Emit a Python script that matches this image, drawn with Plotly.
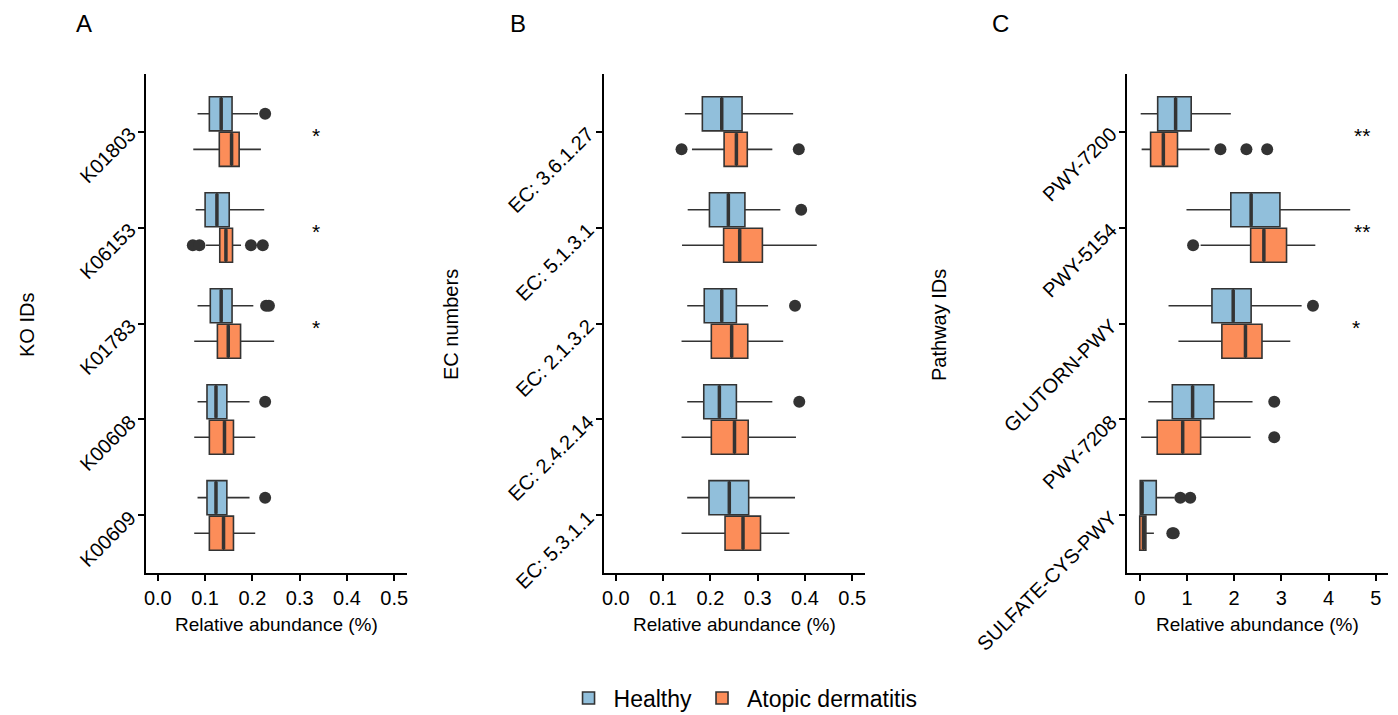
import plotly.graph_objects as go

# ---------------- data ----------------
groups = ["Healthy", "Atopic dermatitis"]
fill_colors = {"Healthy": "#91BFDB", "Atopic dermatitis": "#FC8D59"}

ko_ids = ["K01803", "K06153", "K01783", "K00608", "K00609"]
ko_h_lo = [0.084, 0.080, 0.084, 0.084, 0.084]
ko_h_q1 = [0.109, 0.100, 0.111, 0.104, 0.104]
ko_h_med = [0.134, 0.125, 0.134, 0.123, 0.123]
ko_h_q3 = [0.157, 0.151, 0.157, 0.146, 0.146]
ko_h_hi = [0.212, 0.225, 0.202, 0.194, 0.194]
ko_h_out = [[0.227], [], [0.229, 0.235], [0.227], [0.227]]
ko_a_lo = [0.075, 0.102, 0.077, 0.077, 0.077]
ko_a_q1 = [0.130, 0.131, 0.126, 0.109, 0.109]
ko_a_med = [0.156, 0.144, 0.149, 0.141, 0.139]
ko_a_q3 = [0.172, 0.158, 0.175, 0.160, 0.160]
ko_a_hi = [0.218, 0.176, 0.246, 0.206, 0.206]
ko_a_out = [[], [0.074, 0.088, 0.197, 0.222], [], [], []]
ko_sig = ["*", "*", "*", "", ""]

ec_ids = ["EC: 3.6.1.27", "EC: 5.1.3.1", "EC: 2.1.3.2", "EC: 2.4.2.14", "EC: 5.3.1.1"]
ec_h_lo = [0.146, 0.152, 0.151, 0.151, 0.151]
ec_h_q1 = [0.183, 0.198, 0.187, 0.186, 0.197]
ec_h_med = [0.224, 0.238, 0.224, 0.219, 0.240]
ec_h_q3 = [0.267, 0.273, 0.255, 0.255, 0.281]
ec_h_hi = [0.375, 0.348, 0.322, 0.331, 0.379]
ec_h_out = [[], [0.392], [0.379], [0.388], []]
ec_a_lo = [0.161, 0.140, 0.139, 0.139, 0.139]
ec_a_q1 = [0.229, 0.228, 0.202, 0.202, 0.231]
ec_a_med = [0.255, 0.262, 0.245, 0.251, 0.269]
ec_a_q3 = [0.278, 0.310, 0.279, 0.280, 0.306]
ec_a_hi = [0.331, 0.425, 0.354, 0.381, 0.367]
ec_a_out = [[0.139, 0.387], [], [], [], []]
ec_sig = ["*", "*", "*", "*", "*"]

pw_ids = ["PWY-7200", "PWY-5154", "GLUTORN-PWY", "PWY-7208", "SULFATE-CYS-PWY"]
pw_h_lo = [0.02, 0.99, 0.61, 0.18, 0.01]
pw_h_q1 = [0.38, 1.93, 1.53, 0.69, 0.01]
pw_h_med = [0.76, 2.36, 1.98, 1.12, 0.05]
pw_h_q3 = [1.09, 2.97, 2.36, 1.57, 0.35]
pw_h_hi = [1.93, 4.46, 3.43, 2.39, 0.74]
pw_h_out = [[], [], [3.67], [2.85], [0.86, 1.07]]
pw_a_lo = [0.04, 1.29, 0.82, 0.03, 0.00]
pw_a_q1 = [0.23, 2.35, 1.74, 0.37, 0.00]
pw_a_med = [0.50, 2.63, 2.24, 0.91, 0.08]
pw_a_q3 = [0.80, 3.11, 2.59, 1.29, 0.13]
pw_a_hi = [1.48, 3.72, 3.19, 2.35, 0.30]
pw_a_out = [[1.71, 2.26, 2.70], [1.13], [], [2.85], [0.69, 0.72]]
pw_sig = ["**", "**", "*", "", ""]

panels = [
    dict(label="A", ytitle="KO IDs", cats=ko_ids,
         h=(ko_h_lo, ko_h_q1, ko_h_med, ko_h_q3, ko_h_hi, ko_h_out),
         a=(ko_a_lo, ko_a_q1, ko_a_med, ko_a_q3, ko_a_hi, ko_a_out),
         sig=ko_sig, sigx=[0.335, 0.335, 0.335],
         xrange=[-0.025, 0.527], ticks=[0, 0.1, 0.2, 0.3, 0.4, 0.5],
         ticktext=["0.0", "0.1", "0.2", "0.3", "0.4", "0.5"],
         dom=[146, 407], ytitle_x=27, label_x=84),
    dict(label="B", ytitle="EC numbers", cats=ec_ids,
         h=(ec_h_lo, ec_h_q1, ec_h_med, ec_h_q3, ec_h_hi, ec_h_out),
         a=(ec_a_lo, ec_a_q1, ec_a_med, ec_a_q3, ec_a_hi, ec_a_out),
         sig=ec_sig, sigx=[0.534] * 5,
         xrange=[-0.025, 0.527], ticks=[0, 0.1, 0.2, 0.3, 0.4, 0.5],
         ticktext=["0.0", "0.1", "0.2", "0.3", "0.4", "0.5"],
         dom=[604, 865], ytitle_x=451, label_x=518),
    dict(label="C", ytitle="Pathway IDs", cats=pw_ids,
         h=(pw_h_lo, pw_h_q1, pw_h_med, pw_h_q3, pw_h_hi, pw_h_out),
         a=(pw_a_lo, pw_a_q1, pw_a_med, pw_a_q3, pw_a_hi, pw_a_out),
         sig=pw_sig, sigx=[4.70, 4.70, 4.58],
         xrange=[-0.27, 5.26], ticks=[0, 1, 2, 3, 4, 5],
         ticktext=["0", "1", "2", "3", "4", "5"],
         dom=[1127, 1388], ytitle_x=939, label_x=1000),
]

W, H = 1398, 715
FONT = "Liberation Sans, Arial, sans-serif"
LINE = "#333333"
OFFSET = 0.185
BOXW = 0.355
y_top_px, y_bot_px = 74, 573

fig = go.Figure()
annotations = []

for p_i, p in enumerate(panels):
    sfx = "" if p_i == 0 else str(p_i + 1)
    xref, yref = "x" + sfx, "y" + sfx
    pos = list(range(len(p["cats"])))
    for g_i, (gname, stats) in enumerate(zip(groups, (p["h"], p["a"]))):
        lo, q1, med, q3, hi, outs = stats
        off = -OFFSET if g_i == 0 else OFFSET
        ypos = [y + off for y in pos]
        fig.add_trace(go.Box(
            y=ypos, q1=q1, median=med, q3=q3, lowerfence=lo, upperfence=hi,
            orientation="h", width=BOXW, whiskerwidth=0,
            fillcolor=fill_colors[gname], line=dict(color=LINE, width=1.6),
            boxpoints=False, name=gname, legendgroup=gname,
            showlegend=(p_i == 0), xaxis=xref, yaxis=yref, hoverinfo="skip"))
        # thick median lines
        mx, my = [], []
        for m, yy in zip(med, ypos):
            mx += [m, m, None]
            my += [yy - BOXW / 2 + 0.01, yy + BOXW / 2 - 0.01, None]
        fig.add_trace(go.Scatter(x=mx, y=my, mode="lines",
                                 line=dict(color=LINE, width=3.5),
                                 showlegend=False, xaxis=xref, yaxis=yref,
                                 hoverinfo="skip"))
        ox, oy = [], []
        for vals, yy in zip(outs, ypos):
            for v in vals:
                ox.append(v)
                oy.append(yy)
        fig.add_trace(go.Scatter(x=ox, y=oy, mode="markers",
                                 marker=dict(color=LINE, size=12),
                                 showlegend=False, xaxis=xref, yaxis=yref,
                                 hoverinfo="skip", cliponaxis=False))
    # significance
    for k, s in enumerate(p["sig"]):
        if s:
            annotations.append(dict(x=p["sigx"][k], y=pos[k], xref=xref, yref=yref,
                                    text=s, showarrow=False, yshift=-4,
                                    xanchor="center", yanchor="middle",
                                    font=dict(size=21, color="black", family=FONT)))
    dom = [p["dom"][0] / W, p["dom"][1] / W]
    ydom = [1 - y_bot_px / H, 1 - y_top_px / H]
    axis_common = dict(showline=True, linecolor="black", linewidth=2,
                       ticks="outside", ticklen=6, tickwidth=1.5, tickcolor="black",
                       showgrid=False, zeroline=False, automargin=False,
                       tickfont=dict(size=20, color="black", family=FONT))
    fig.update_layout(**{
        "xaxis" + sfx: dict(domain=dom, range=p["xrange"], anchor=yref,
                            tickvals=p["ticks"], ticktext=p["ticktext"], **axis_common),
        "yaxis" + sfx: dict(domain=ydom, range=[len(pos) - 0.4, -0.6], anchor=xref,
                            tickvals=pos, ticktext=p["cats"], tickangle=-45,
                            ticklabelstandoff=4, **axis_common),
    })
    cx = (p["dom"][0] + p["dom"][1]) / 2 / W
    annotations.append(dict(x=cx, y=1 - 624 / H, xref="paper", yref="paper",
                            text="Relative abundance (%)", showarrow=False,
                            xanchor="center", yanchor="middle",
                            font=dict(size=19, color="black", family=FONT)))
    annotations.append(dict(x=p["ytitle_x"] / W, y=1 - 325 / H, xref="paper", yref="paper",
                            text=p["ytitle"], showarrow=False, textangle=-90,
                            xanchor="center", yanchor="middle",
                            font=dict(size=20, color="black", family=FONT)))
    annotations.append(dict(x=p["label_x"] / W, y=1 - 24 / H, xref="paper", yref="paper",
                            text=p["label"], showarrow=False,
                            xanchor="center", yanchor="middle",
                            font=dict(size=24, color="black", family=FONT)))

fig.update_layout(
    width=W, height=H, margin=dict(l=0, r=0, t=0, b=0, autoexpand=False),
    paper_bgcolor="white", plot_bgcolor="white",
    font=dict(family=FONT, color="black"),
    annotations=annotations,
    showlegend=True,
    legend=dict(orientation="h", x=0.5315, xanchor="center", y=1 - 698 / H,
                yanchor="middle", font=dict(size=23, color="black", family=FONT),
                itemwidth=40),
)

fig.write_html("out.html", config={"displayModeBar": False},
               post_script="document.body.style.margin='0';document.body.style.overflow='hidden';")
